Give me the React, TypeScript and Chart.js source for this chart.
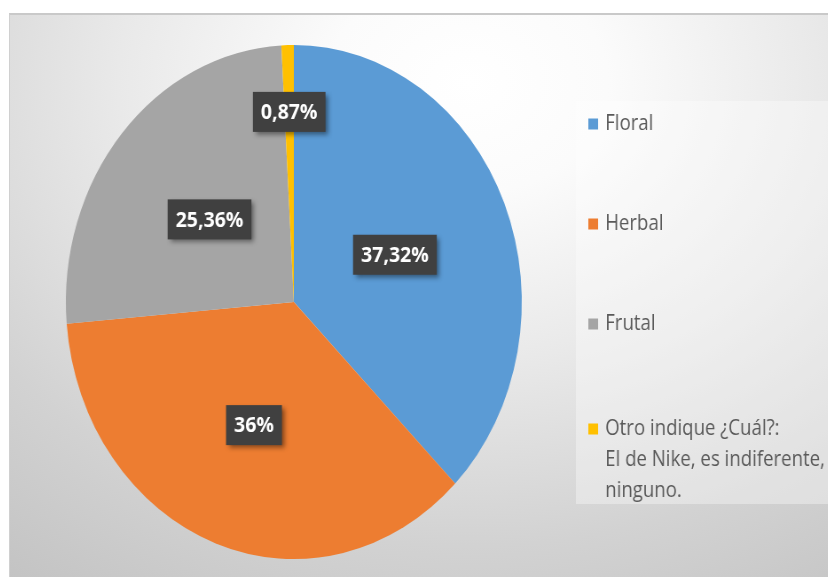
import React, { useEffect, useRef } from 'react';
import { Chart, registerables } from 'chart.js';

Chart.register(...registerables);

// ---- data ----
const categories = ['Floral', 'Herbal', 'Frutal', 'Otro indique ¿Cuál?:'];
const legendLines: string[][] = [
  ['Floral'],
  ['Herbal'],
  ['Frutal'],
  ['Otro indique ¿Cuál?:', 'El de Nike, es indiferente,', 'ninguno.'],
];
const percentages = [37.32, 36, 25.36, 0.87];
const sliceColors = ['#5B9BD5', '#ED7D31', '#A5A5A5', '#FFC000'];

// ---- layout ----
const SX = 0.887; // horizontal squeeze of the original picture
const FRAME_W = 819;
const FRAME_H = 564;
const CANVAS_W = Math.round(FRAME_W / SX);

const fmt = (v: number) => String(v).replace('.', ',') + '%';

const boxLabels = {
  id: 'boxLabels',
  afterDatasetsDraw(chart: any, _args: any, opts: any) {
    const meta = chart.getDatasetMeta(0);
    const values: number[] = chart.data.datasets[0].data;
    const ctx = chart.ctx as CanvasRenderingContext2D;
    ctx.save();
    ctx.font = opts.font;
    ctx.textAlign = 'center';
    ctx.textBaseline = 'middle';
    meta.data.forEach((arc: any, i: number) => {
      const p = arc.getProps(['x', 'y', 'startAngle', 'endAngle', 'outerRadius'], true);
      const mid = (p.startAngle + p.endAngle) / 2;
      const r = p.outerRadius * opts.radial[i];
      const px = p.x + Math.cos(mid) * r;
      const py = p.y + Math.sin(mid) * r;
      const text = fmt(values[i]);
      const w = ctx.measureText(text).width + opts.padX * 2;
      const h = opts.boxH;
      ctx.shadowColor = 'rgba(0,0,0,0.45)';
      ctx.shadowBlur = 5;
      ctx.shadowOffsetX = 3;
      ctx.shadowOffsetY = 3;
      ctx.fillStyle = '#404040';
      ctx.fillRect(px - w / 2, py - h / 2, w, h);
      ctx.shadowColor = 'transparent';
      ctx.shadowBlur = 0;
      ctx.shadowOffsetX = 0;
      ctx.shadowOffsetY = 0;
      ctx.fillStyle = '#ffffff';
      ctx.fillText(text, px, py + 1);
    });
    ctx.restore();
  },
};

const sideLegend = {
  id: 'sideLegend',
  beforeDraw(chart: any, _args: any, opts: any) {
    const ctx = chart.ctx as CanvasRenderingContext2D;
    ctx.save();
    ctx.fillStyle = opts.boxFill;
    ctx.fillRect(opts.boxX, opts.boxY, opts.boxW, opts.boxH);
    ctx.restore();
  },
  afterDraw(chart: any, _args: any, opts: any) {
    const ctx = chart.ctx as CanvasRenderingContext2D;
    const colors: string[] = chart.data.datasets[0].backgroundColor;
    ctx.save();
    ctx.font = opts.font;
    ctx.textBaseline = 'middle';
    ctx.textAlign = 'left';
    opts.lines.forEach((item: string[], i: number) => {
      const y = opts.firstY + i * opts.step + (item.length > 1 ? opts.multiOffset : 0);
      ctx.fillStyle = colors[i];
      ctx.fillRect(opts.markerX, y - opts.marker / 2, opts.marker, opts.marker);
      ctx.fillStyle = opts.color;
      item.forEach((t, j) => ctx.fillText(t, opts.textX, y + j * opts.lineH));
    });
    ctx.restore();
  },
};

function PieChart() {
  const ref = useRef<HTMLCanvasElement | null>(null);
  useEffect(() => {
    if (!ref.current) return;
    const chart = new Chart(ref.current, {
      type: 'pie',
      data: {
        labels: categories,
        datasets: [
          {
            data: percentages,
            backgroundColor: sliceColors,
            borderWidth: 0,
            hoverOffset: 0,
          },
        ],
      },
      options: {
        animation: false,
        responsive: true,
        maintainAspectRatio: false,
        events: [],
        layout: { padding: { left: 63, top: 30, right: CANVAS_W - 63 - 514, bottom: 20 } },
        plugins: {
          legend: { display: false },
          tooltip: { enabled: false },
          boxLabels: {
            font: 'bold 22px "Open Sans"',
            radial: [0.48, 0.51, 0.49, 0.74],
            padX: 9,
            boxH: 40,
          },
          sideLegend: {
            boxFill: 'rgba(255,255,255,0.35)',
            boxX: 638,
            boxY: 86,
            boxW: CANVAS_W - 638,
            boxH: 403,
            font: '21px "Open Sans"',
            color: '#595959',
            lines: legendLines,
            firstY: 109,
            step: 100,
            multiOffset: 5,
            lineH: 31,
            markerX: 652,
            marker: 11,
            textX: 671,
          },
        } as any,
      },
      plugins: [boxLabels, sideLegend],
    });
    return () => chart.destroy();
  }, []);

  return (
    <div
      style={{
        position: 'absolute',
        left: 0,
        top: 0,
        width: CANVAS_W,
        height: FRAME_H,
        transform: `scaleX(${SX})`,
        transformOrigin: '0 0',
      }}
    >
      <canvas ref={ref} />
    </div>
  );
}

export default function App() {
  return (
    <div
      style={{
        position: 'fixed',
        left: 0,
        top: 0,
        width: 828,
        height: 577,
        background: '#ffffff',
        overflow: 'hidden',
      }}
    >
      <div
        style={{
          position: 'absolute',
          left: 9,
          top: 13,
          width: FRAME_W,
          height: FRAME_H,
          overflow: 'hidden',
          boxSizing: 'border-box',
          borderTop: '2px solid #c9c9c9',
          borderLeft: '1px solid #d0d0d0',
          background:
            'radial-gradient(ellipse 95% 110% at 56% 12%, #ffffff 0%, #fbfbfb 18%, #e9e9e9 45%, #d2d2d2 75%, #c3c3c3 100%)',
        }}
      >
        <PieChart />
      </div>
    </div>
  );
}
